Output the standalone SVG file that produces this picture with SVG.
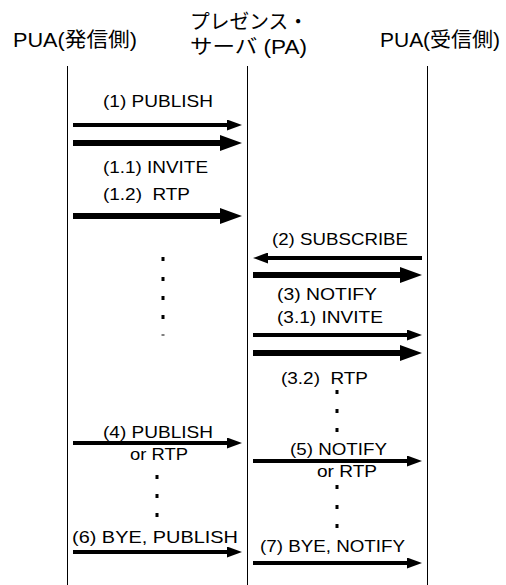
<svg xmlns="http://www.w3.org/2000/svg" width="506" height="585" viewBox="0 0 506 585">
<style>
text{font-family:"Liberation Sans","Noto Sans CJK JP",sans-serif;fill:#000;white-space:pre}
.hd{font-size:20px}
.lb{font-size:17px}
.life{stroke:#000;stroke-width:1;fill:none}
.thin{stroke:#000;stroke-width:4;fill:none}
.thick{stroke:#000;stroke-width:6;fill:none}
.dot{fill:#000}
</style>
<defs>
<marker id="hThin" markerUnits="userSpaceOnUse" markerWidth="15" markerHeight="11" refX="0" refY="5.5" orient="auto"><path d="M0,0 L15,5.5 L0,11 z" fill="#000"/></marker>
<marker id="hThick" markerUnits="userSpaceOnUse" markerWidth="22" markerHeight="16" refX="0" refY="8" orient="auto"><path d="M0,0 L22,8 L0,16 z" fill="#000"/></marker>
</defs>
<rect width="506" height="585" fill="#fff"/>
<g id="node-pua-send">
<text class="hd" x="13" y="47" textLength="124" lengthAdjust="spacingAndGlyphs">PUA(発信側)</text>
<line class="life" x1="67.5" y1="66" x2="67.5" y2="585"/>
</g>
<g id="node-pa">
<text class="hd" x="190" y="29" textLength="118" lengthAdjust="spacingAndGlyphs">プレゼンス・</text>
<text class="hd" x="190" y="54" textLength="117" lengthAdjust="spacingAndGlyphs">サーバ (PA)</text>
<line class="life" x1="247.5" y1="66" x2="247.5" y2="585"/>
</g>
<g id="node-pua-recv">
<text class="hd" x="380" y="47" textLength="120" lengthAdjust="spacingAndGlyphs">PUA(受信側)</text>
<line class="life" x1="427.5" y1="66" x2="427.5" y2="585"/>
</g>
<g id="connectors">
<line class="thin" x1="73" y1="125" x2="227" y2="125" marker-end="url(#hThin)"/>
<line class="thick" x1="73" y1="143" x2="220" y2="143" marker-end="url(#hThick)"/>
<line class="thick" x1="73" y1="216" x2="220" y2="216" marker-end="url(#hThick)"/>
<line class="thin" x1="422" y1="258" x2="268" y2="258" marker-end="url(#hThin)"/>
<line class="thick" x1="253" y1="275" x2="400" y2="275" marker-end="url(#hThick)"/>
<line class="thin" x1="253" y1="335" x2="407" y2="335" marker-end="url(#hThin)"/>
<line class="thick" x1="253" y1="353" x2="400" y2="353" marker-end="url(#hThick)"/>
<line class="thin" x1="73" y1="443" x2="227" y2="443" marker-end="url(#hThin)"/>
<line class="thin" x1="253" y1="461" x2="407" y2="461" marker-end="url(#hThin)"/>
<line class="thin" x1="73" y1="552" x2="227" y2="552" marker-end="url(#hThin)"/>
<line class="thin" x1="253" y1="563" x2="407" y2="563" marker-end="url(#hThin)"/>
</g>
<g id="labels">
<text class="lb" x="103" y="107" textLength="110" lengthAdjust="spacingAndGlyphs">(1) PUBLISH</text>
<text class="lb" x="103" y="173" textLength="105" lengthAdjust="spacingAndGlyphs">(1.1) INVITE</text>
<text class="lb" x="103" y="200" textLength="87" lengthAdjust="spacingAndGlyphs">(1.2)  RTP</text>
<text class="lb" x="272" y="245" textLength="136" lengthAdjust="spacingAndGlyphs">(2) SUBSCRIBE</text>
<text class="lb" x="277" y="300" textLength="100" lengthAdjust="spacingAndGlyphs">(3) NOTIFY</text>
<text class="lb" x="277" y="323" textLength="106" lengthAdjust="spacingAndGlyphs">(3.1) INVITE</text>
<text class="lb" x="281" y="384" textLength="87" lengthAdjust="spacingAndGlyphs">(3.2)  RTP</text>
<text class="lb" x="103" y="438" textLength="110" lengthAdjust="spacingAndGlyphs">(4) PUBLISH</text>
<text class="lb" x="130" y="460" textLength="58" lengthAdjust="spacingAndGlyphs">or RTP</text>
<text class="lb" x="290" y="455" textLength="97" lengthAdjust="spacingAndGlyphs">(5) NOTIFY</text>
<text class="lb" x="317" y="477" textLength="60" lengthAdjust="spacingAndGlyphs">or RTP</text>
<text class="lb" x="72" y="543" textLength="166" lengthAdjust="spacingAndGlyphs">(6) BYE, PUBLISH</text>
<text class="lb" x="260" y="552" textLength="145" lengthAdjust="spacingAndGlyphs">(7) BYE, NOTIFY</text>
</g>
<g id="dots">
<rect class="dot" x="161.5" y="257" width="3" height="4"/>
<rect class="dot" x="161.5" y="277" width="3" height="4"/>
<rect class="dot" x="161.5" y="296" width="3" height="4"/>
<rect class="dot" x="161.5" y="315" width="3" height="4"/>
<rect class="dot" x="161.5" y="334.5" width="3" height="1"/>
<rect class="dot" x="335.5" y="390" width="3" height="4"/>
<rect class="dot" x="335.5" y="409" width="3" height="4"/>
<rect class="dot" x="335.5" y="428" width="3" height="4"/>
<rect class="dot" x="155.5" y="475" width="3" height="4"/>
<rect class="dot" x="155.5" y="494" width="3" height="4"/>
<rect class="dot" x="155.5" y="513" width="3" height="4"/>
<rect class="dot" x="335.5" y="485" width="3" height="4"/>
<rect class="dot" x="335.5" y="505" width="3" height="4"/>
<rect class="dot" x="335.5" y="524" width="3" height="4"/>
</g>
</svg>
